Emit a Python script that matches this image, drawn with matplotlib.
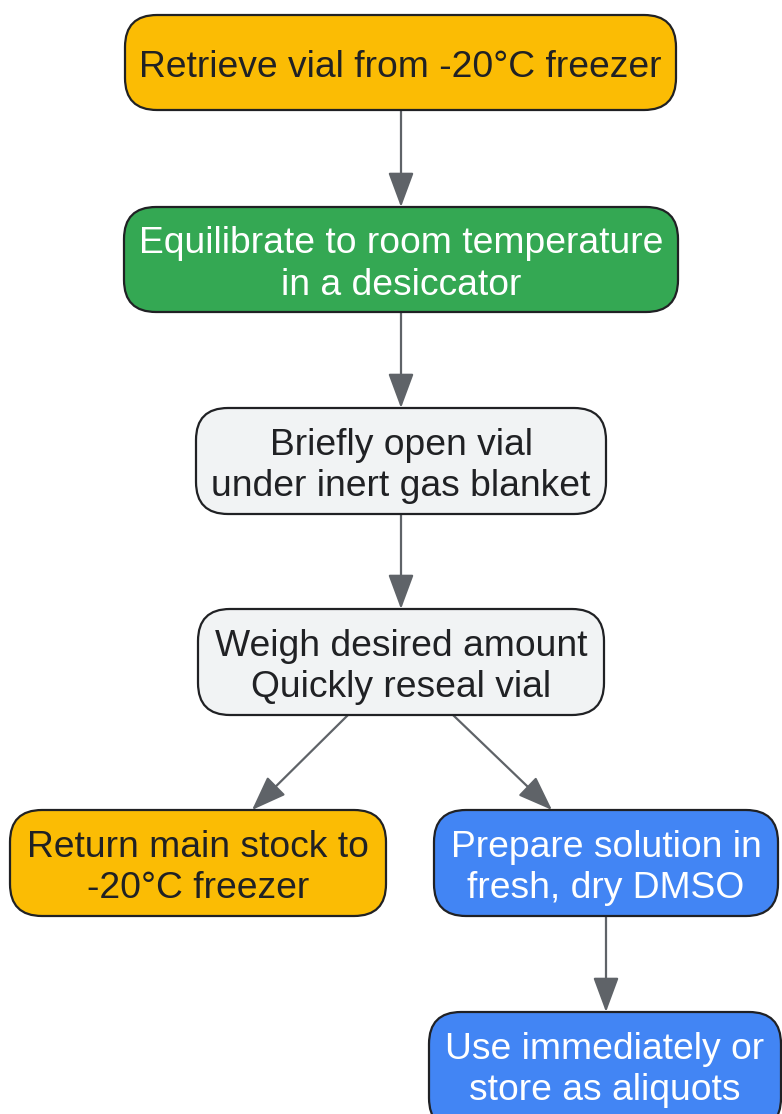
import matplotlib.pyplot as plt
from matplotlib.patches import FancyBboxPatch, FancyArrowPatch

# ======================
# 流程图数据
# ======================
labels = [
    "Retrieve vial from -20°C freezer",
    "Equilibrate to room temperature\nin a desiccator",
    "Briefly open vial\nunder inert gas blanket",
    "Weigh desired amount\nQuickly reseal vial",
    "Return main stock to\n-20°C freezer",
    "Prepare solution in\nfresh, dry DMSO",
    "Use immediately or\nstore as aliquots",
]
fills = ["#FBBC04", "#34A853", "#F1F3F4", "#F1F3F4", "#FBBC04", "#4285F4", "#4285F4"]
text_colors = ["#202124", "white", "#202124", "#202124", "#202124", "white", "white"]
edges = [(0, 1), (1, 2), (2, 3), (3, 4), (3, 5), (5, 6)]

# 布局 (像素坐标: x0, y0, x1, y1)
boxes = [
    (125, 15, 676, 110),
    (124, 207, 678, 312),
    (196, 408, 606, 514),
    (198, 609, 604, 715),
    (10, 810, 386, 916),
    (434, 810, 778, 916),
    (429, 1012, 781, 1130),
]
# 箭头端点
arrow_pts = {
    (0, 1): ((401, 110), (401, 207)),
    (1, 2): ((401, 312), (401, 408)),
    (2, 3): ((401, 514), (401, 609)),
    (3, 4): ((348, 715), (252, 810)),
    (3, 5): ((453, 715), (552, 810)),
    (5, 6): ((606, 916), (606, 1012)),
}

W, H = 782, 1114
fig = plt.figure(figsize=(W / 100, H / 100), dpi=100)
ax = fig.add_axes([0, 0, 1, 1])
ax.set_xlim(0, W)
ax.set_ylim(H, 0)
ax.axis('off')

plt.rcParams['font.family'] = ['Liberation Sans', 'DejaVu Sans']

for (x0, y0, x1, y1), lab, fc, tc in zip(boxes, labels, fills, text_colors):
    patch = FancyBboxPatch((x0, y0), x1 - x0, y1 - y0,
                           boxstyle="round,pad=0,rounding_size=32",
                           facecolor=fc, edgecolor="#202124", linewidth=1.6,
                           zorder=2)
    ax.add_patch(patch)
    cy = (y0 + y1) / 2 if y1 < 1120 else y0 + 53
    ax.text((x0 + x1) / 2, cy + 5, lab, ha='center', va='center',
            fontsize=26.8, color=tc, linespacing=1.24, zorder=3)

for e in edges:
    (xa, ya), (xb, yb) = arrow_pts[e]
    arr = FancyArrowPatch((xa, ya), (xb, yb), arrowstyle='-|>,head_length=1.08,head_width=0.4',
                          mutation_scale=20, color="#5F6368", linewidth=1.6,
                          shrinkA=0, shrinkB=0, zorder=1)
    ax.add_patch(arr)

fig.savefig("out.png", dpi=100)
